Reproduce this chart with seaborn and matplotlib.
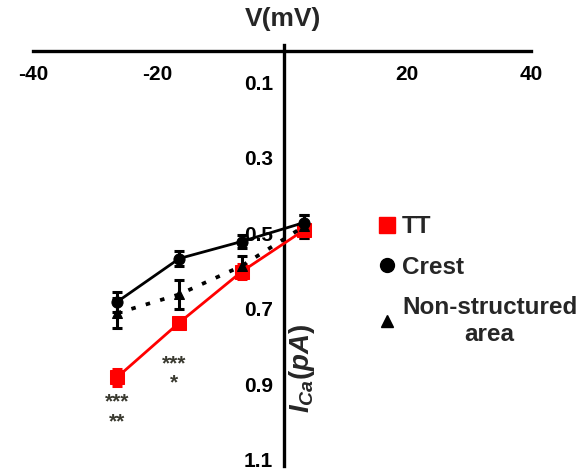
import matplotlib
matplotlib.use("Agg")
import matplotlib.pyplot as plt
import matplotlib.transforms as mtransforms
from matplotlib.lines import Line2D
import numpy as np
import pandas as pd
import seaborn as sns

# Voltage steps (mV) and mean calcium current amplitudes (pA) per membrane region
voltages = [-26.5, -16.5, -6.5, 3.5]
regions = ["TT", "Crest", "Non-structured area"]
tt_current = [0.865, 0.72, 0.585, 0.475]
crest_current = [0.665, 0.55, 0.505, 0.455]
nonstruct_current = [0.695, 0.645, 0.57, 0.465]
tt_sem = [0.023, 0.012, 0.02, 0.02]
crest_sem = [0.027, 0.02, 0.018, 0.02]
nonstruct_sem = [0.04, 0.038, 0.027, 0.03]

x_ticks = [-40, -20, 20, 40]
y_ticks = [0.1, 0.3, 0.5, 0.7, 0.9, 1.1]

# Significance marks: (voltage, current, text)
sig_marks = [(-26.5, 0.93, "***"), (-26.5, 0.983, "**"),
             (-17.3, 0.83, "***"), (-17.3, 0.88, "*")]

sns.set_style("white")
plt.rcParams["font.family"] = ["Liberation Sans", "DejaVu Sans"]
plt.rcParams["font.weight"] = "bold"
plt.rcParams["axes.unicode_minus"] = False
plt.rcParams["mathtext.fontset"] = "custom"
plt.rcParams["mathtext.it"] = "Liberation Sans:italic:bold"
plt.rcParams["mathtext.rm"] = "Liberation Sans:bold"

df = pd.DataFrame({
    "V": voltages * 3,
    "I": tt_current + crest_current + nonstruct_current,
    "sem": tt_sem + crest_sem + nonstruct_sem,
    "region": [r for r in regions for _ in voltages],
})

colors = {"TT": "#ff0000", "Crest": "#000000", "Non-structured area": "#000000"}
markers = {"TT": "s", "Crest": "o", "Non-structured area": "^"}
dashes = {"TT": "", "Crest": "", "Non-structured area": (1.2, 2.8)}
msizes = {"TT": 10, "Crest": 8, "Non-structured area": 7}

fig = plt.figure(figsize=(5.86, 4.70), dpi=100)
ax = fig.add_axes([33 / 586, 1 - 466 / 470, 498 / 586, (466 - 45) / 470])

for reg in regions:
    sub = df[df["region"] == reg]
    ax.errorbar(sub["V"], sub["I"], yerr=sub["sem"], fmt="none",
                ecolor=colors[reg], elinewidth=2.2, capsize=3.5, capthick=2.2, zorder=3)
    sns.lineplot(data=sub, x="V", y="I", color=colors[reg], marker=markers[reg],
                 markersize=msizes[reg], markeredgecolor=colors[reg],
                 dashes=dashes[reg] if dashes[reg] else (None, None),
                 linewidth=2.0 if reg != "Non-structured area" else 2.7,
                 ax=ax, legend=False, zorder=4, errorbar=None)

ax.set_xlim(-40, 40)
ax.set_ylim(1.1, -0.016)

ax.spines["left"].set_position(("data", 0.3))
ax.spines["bottom"].set_position(("data", 0))
ax.spines["top"].set_visible(False)
ax.spines["right"].set_visible(False)
for s in ("left", "bottom"):
    ax.spines[s].set_linewidth(2.4)
    ax.spines[s].set_color("black")

ax.set_xticks(x_ticks)
ax.set_xticklabels([str(v) for v in x_ticks])
ax.set_yticks(y_ticks)
ax.set_yticklabels([f"{v:.1f}" for v in y_ticks])
ax.tick_params(axis="both", direction="out", length=3, width=2, labelsize=15,
               colors="black")
ax.tick_params(axis="x", pad=7)
ax.tick_params(axis="y", pad=5)
ax.set_xlabel("")
ax.set_ylabel("")

# y tick labels sit slightly above their tick marks
lift = mtransforms.ScaledTranslation(0, 6.5 / 100, fig.dpi_scale_trans)
for lab in ax.get_yticklabels():
    lab.set_transform(lab.get_transform() + lift)

ax.text(3.2, 0.84, r"$I_{Ca}(pA)$", rotation=90, ha="center", va="center",
        fontsize=20)

for v, i, s in sig_marks:
    ax.text(v, i, s, ha="center", va="center", fontsize=15, color="#3a3a30")

fig.text(283 / 586, 1 - 19 / 470, "V(mV)", ha="center", va="center",
         fontsize=19, fontweight="bold")

handles = [Line2D([], [], color=colors[r], marker=markers[r], linestyle="None",
                  markersize=ms) for r, ms in zip(regions, [11, 10, 9])]
leg = fig.legend(handles, ["TT", "Crest", "Non-structured\narea"],
                 loc="upper left", bbox_to_anchor=(368 / 586, 1 - 203 / 470),
                 frameon=False, fontsize=17.5, handlelength=0.6,
                 handletextpad=0.3, labelspacing=0.72, borderpad=0)
for t in leg.get_texts():
    t.set_multialignment("center")
    t.set_fontweight("bold")

fig.savefig("out.png", dpi=100)
